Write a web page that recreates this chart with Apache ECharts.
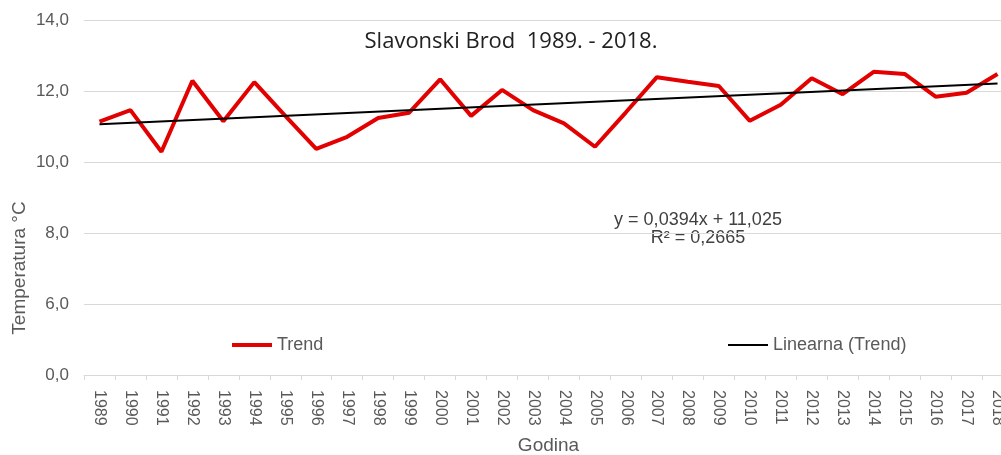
<!DOCTYPE html>
<html>
<head>
<meta charset="utf-8">
<script src="https://cdn.jsdelivr.net/npm/echarts@6/dist/echarts.min.js"></script>
<style>
  html, body { margin: 0; padding: 0; background: #fff; }
  #main { width: 1001px; height: 455px; }
</style>
</head>
<body>
<div id="main"></div>
<script>
var years = ['1989','1990','1991','1992','1993','1994','1995','1996','1997','1998',
             '1999','2000','2001','2002','2003','2004','2005','2006','2007','2008',
             '2009','2010','2011','2012','2013','2014','2015','2016','2017','2018'];
var temps = [11.14, 11.46, 10.29, 12.29, 11.15, 12.25, 11.30, 10.37, 10.71, 11.24,
             11.39, 12.33, 11.30, 12.03, 11.46, 11.09, 10.43, 11.40, 12.39, 12.26,
             12.14, 11.16, 11.61, 12.36, 11.91, 12.54, 12.48, 11.84, 11.95, 12.48];
// linear trend line: only the end points
var trendStart = 11.06;
var trendEnd = 12.21;
// broken axis: bottom tick is shown as 0,0
var yTickValues = [4, 6, 8, 10, 12, 14];
var yTickLabels = ['0,0', '6,0', '8,0', '10,0', '12,0', '14,0'];

var trend = years.map(function (y, i) {
    if (i === 0) return trendStart;
    if (i === years.length - 1) return trendEnd;
    return null;
});

var grey = '#595959';
var myChart = echarts.init(document.getElementById('main'));
var option = {
    backgroundColor: '#fff',
    animation: false,
    title: {
        text: 'Slavonski Brod  1989. - 2018.',
        left: 506,
        top: 26,
        textAlign: 'center',
        textStyle: { fontFamily: 'Open Sans', fontSize: 22, fontWeight: 'normal', color: '#222' }
    },
    legend: [{
        data: [{ name: 'Trend', icon: 'rect' }],
        left: 227,
        top: 331,
        itemWidth: 40,
        itemHeight: 4,
        textStyle: { fontFamily: 'Liberation Sans', fontSize: 18, color: grey }
    }, {
        data: [{ name: 'Linearna (Trend)', icon: 'rect' }],
        left: 723,
        top: 331,
        itemWidth: 40,
        itemHeight: 2,
        textStyle: { fontFamily: 'Liberation Sans', fontSize: 18, color: grey }
    }],
    grid: { left: 84, top: 20, width: 929, bottom: 80, containLabel: false, outerBoundsMode: 'none' },
    xAxis: {
        type: 'category',
        data: years,
        boundaryGap: true,
        name: 'Godina',
        nameLocation: 'middle',
        nameGap: 61,
        nameTextStyle: { fontFamily: 'Liberation Sans', fontSize: 19, color: grey },
        axisLine: { lineStyle: { color: '#d9d9d9' } },
        axisTick: { show: true, length: 5, lineStyle: { color: '#d9d9d9' } },
        axisLabel: { rotate: -90, margin: 15, fontFamily: 'Liberation Sans', fontSize: 16, color: grey }
    },
    yAxis: {
        type: 'value',
        min: 4,
        max: 14,
        interval: 2,
        axisLine: { show: false },
        axisTick: { show: false },
        splitLine: { lineStyle: { color: '#d9d9d9' } },
        axisLabel: {
            margin: 15,
            fontFamily: 'Liberation Sans',
            fontSize: 17,
            color: grey,
            formatter: function (v) {
                var k = yTickValues.indexOf(v);
                return k >= 0 ? yTickLabels[k] : '';
            }
        }
    },
    graphic: [{
        type: 'text',
        x: 10,
        y: 268,
        rotation: Math.PI / 2,
        style: {
            text: 'Temperatura °C',
            font: '19px "Liberation Sans"',
            fill: grey,
            align: 'center',
            verticalAlign: 'top'
        }
    }, {
        type: 'text',
        x: 698,
        y: 229,
        style: {
            text: 'y = 0,0394x + 11,025\nR² = 0,2665',
            font: '18px "Liberation Sans"',
            fill: '#404040',
            align: 'center',
            verticalAlign: 'middle',
            lineHeight: 18
        }
    }],
    series: [{
        name: 'Trend',
        type: 'line',
        data: temps,
        symbol: 'none',
        itemStyle: { color: '#e30000' },
        lineStyle: { color: '#e30000', width: 4 }
    }, {
        name: 'Linearna (Trend)',
        type: 'line',
        data: trend,
        connectNulls: true,
        symbol: 'none',
        itemStyle: { color: '#000' },
        lineStyle: { color: '#000', width: 2 }
    }]
};
myChart.setOption(option);
</script>
</body>
</html>
